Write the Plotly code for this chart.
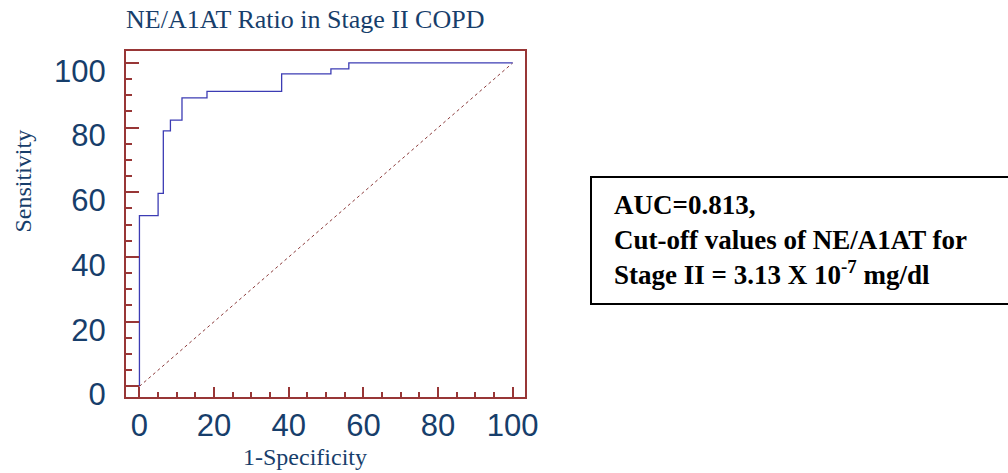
import plotly.graph_objects as go

# ROC step coordinates (1-Specificity %, Sensitivity %), drawn with 'vh' steps
fpr = [0, 5.0, 6.4, 8.3, 11.4, 18.1, 38.1, 51.3, 56.1, 100]
tpr = [0, 52.8, 59.7, 79.0, 82.3, 89.2, 91.2, 96.6, 98.2, 100]
diag_x = [0, 100]
diag_y = [0, 100]
tick_vals = [0, 20, 40, 60, 80, 100]

title_text = "NE/A1AT Ratio in Stage II COPD"
x_title = "1-Specificity"
y_title = "Sensitivity"
note_lines = ["AUC=0.813,", "Cut-off values of NE/A1AT for",
              "Stage II = 3.13 X 10<sup>-7</sup> mg/dl"]

NAVY = "#173E6B"
FRAME = "#983636"

fig = go.Figure()
fig.add_trace(go.Scatter(x=diag_x, y=diag_y, mode="lines",
                         line=dict(color="#8B3A3A", width=1, dash="dot"),
                         hoverinfo="skip", showlegend=False))
fig.add_trace(go.Scatter(x=fpr, y=tpr, mode="lines", line_shape="vh",
                         line=dict(color="#3C3CB4", width=1.3),
                         showlegend=False))

W, H = 1008, 473
L, R, T, B = 126, 525, 51, 397
pw, ph = R - L, B - T

def px(xp):
    return (xp - L) / pw

def py(yp):
    return (B - yp) / ph

axis_common = dict(
    showgrid=False, zeroline=False, showline=True, mirror=True,
    linecolor=FRAME, linewidth=2, ticks="inside", tickcolor=FRAME,
    tickwidth=1.5, tickvals=tick_vals,
    tickfont=dict(family="Liberation Sans, Arial, sans-serif", size=31, color=NAVY),
)

fig.update_layout(
    width=W, height=H,
    margin=dict(l=L, r=W - R, t=T, b=H - B),
    plot_bgcolor="white", paper_bgcolor="white",
    xaxis=dict(range=[-3.6, 103.3], ticklen=10,
               minor=dict(dtick=5, ticklen=5, ticks="inside", tickcolor=FRAME, tickwidth=1.5),
               ticklabelstandoff=0, **axis_common),
    yaxis=dict(range=[-3.3, 103.7], ticklen=13,
               minor=dict(dtick=5, ticklen=6, ticks="inside", tickcolor=FRAME, tickwidth=1.5),
               ticklabelstandoff=12, ticklabelshift=8, **axis_common),
    title=dict(text=title_text, xref="paper", x=0, xanchor="left",
               yref="container", y=1 - 19 / H, yanchor="middle",
               font=dict(family="Liberation Serif, Times New Roman, serif", size=26, color=NAVY)),
)

fig.add_annotation(text=x_title, xref="paper", yref="paper", x=px(305), y=py(457),
                   xanchor="center", yanchor="middle", showarrow=False,
                   font=dict(family="Liberation Serif, Times New Roman, serif", size=24, color=NAVY))
fig.add_annotation(text=y_title, xref="paper", yref="paper", x=px(22.5), y=py(181),
                   xanchor="center", yanchor="middle", textangle=-90, showarrow=False,
                   font=dict(family="Liberation Serif, Times New Roman, serif", size=24, color=NAVY))

fig.add_shape(type="rect", xref="paper", yref="paper",
              x0=px(591), x1=px(1014), y0=py(304), y1=py(177),
              line=dict(color="black", width=2), fillcolor="rgba(0,0,0,0)")
fig.add_annotation(text="<br>".join(note_lines), xref="paper", yref="paper",
                   x=px(612), y=py(240), xanchor="left", yanchor="middle",
                   align="left", showarrow=False,
                   font=dict(family="Liberation Serif, Times New Roman, serif", size=27, color="black",
                             weight="bold"))

fig.write_html("out.html", config={"displayModeBar": False},
               post_script="document.body.style.margin='0';")
